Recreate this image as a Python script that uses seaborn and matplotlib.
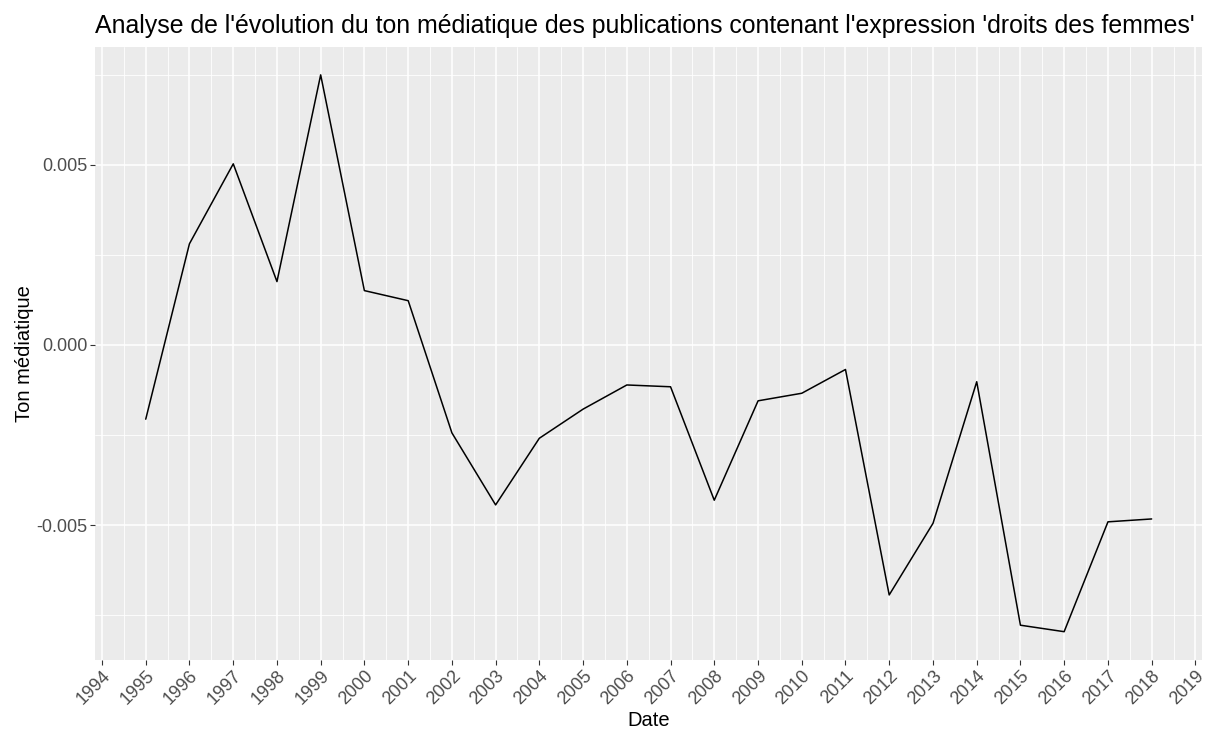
import pandas as pd
import numpy as np
import matplotlib
matplotlib.use("Agg")
import matplotlib.pyplot as plt
import matplotlib.dates as mdates
import seaborn as sns

# valeurs
annees = list(range(1995, 2019))
ton = [-0.00206, 0.00281, 0.00503, 0.00176, 0.00750, 0.00151, 0.00123,
       -0.00244, -0.00444, -0.00259, -0.00178, -0.00111, -0.00116,
       -0.00431, -0.00155, -0.00134, -0.00068, -0.00694, -0.00495,
       -0.00102, -0.00778, -0.00796, -0.00491, -0.00483]
annees_ticks = list(range(1994, 2020))
y_ticks = [-0.005, 0.0, 0.005]
y_labels = ["-0.005", "0.000", "0.005"]
y_minor = [-0.0075, -0.0025, 0.0025, 0.0075]

titre = "Analyse de l'évolution du ton médiatique des publications contenant l'expression 'droits des femmes'"

df = pd.DataFrame({
    "Date": pd.to_datetime([f"{a}-01-01" for a in annees]),
    "Ton": ton,
})

sns.set_theme(style="darkgrid", rc={
    "axes.facecolor": "#EBEBEB",
    "grid.color": "white",
    "axes.edgecolor": "#EBEBEB",
})
plt.rcParams["font.family"] = ["Liberation Sans", "DejaVu Sans"]

fig = plt.figure(figsize=(12.08, 7.29), dpi=100)
ax = fig.add_axes([0.079, 0.0953, 0.916, 0.8402])

sns.lineplot(data=df, x="Date", y="Ton", color="black", linewidth=1.1, ax=ax)

# limites avec expansion de 5% façon ggplot
x0 = mdates.date2num(df["Date"].min())
x1 = mdates.date2num(df["Date"].max())
dx = (x1 - x0) * 0.05
ax.set_xlim(x0 - dx, x1 + dx)
y0, y1 = min(ton), max(ton)
dy = (y1 - y0) * 0.05
ax.set_ylim(y0 - dy, y1 + dy)

# graduations
maj = [mdates.date2num(pd.Timestamp(f"{a}-01-01")) for a in annees_ticks]
ax.set_xticks(maj)
ax.set_xticklabels([str(a) for a in annees_ticks], rotation=45, ha="right",
                   va="top", rotation_mode="anchor", fontsize=13, color="#4D4D4D")
mid = [(maj[i] + maj[i + 1]) / 2 for i in range(len(maj) - 1)]
ax.set_xticks(mid, minor=True)
ax.set_yticks(y_ticks)
ax.set_yticklabels(y_labels, fontsize=13, color="#4D4D4D")
ax.set_yticks(y_minor, minor=True)

ax.grid(which="major", color="white", linewidth=1.1)
ax.grid(which="minor", color="white", linewidth=0.6)
ax.tick_params(which="major", length=3.5, width=0.8, color="#333333", pad=2,
               bottom=True, left=True)
ax.tick_params(which="minor", length=0)
for s in ax.spines.values():
    s.set_visible(False)

ax.set_xlabel("Date", fontsize=14.5, color="black", labelpad=2)
ax.set_ylabel("Ton médiatique", fontsize=14.5, color="black", labelpad=2)
ax.set_title(titre, loc="left", fontsize=17.9, color="black", pad=10)

fig.savefig("out.png", dpi=100)
